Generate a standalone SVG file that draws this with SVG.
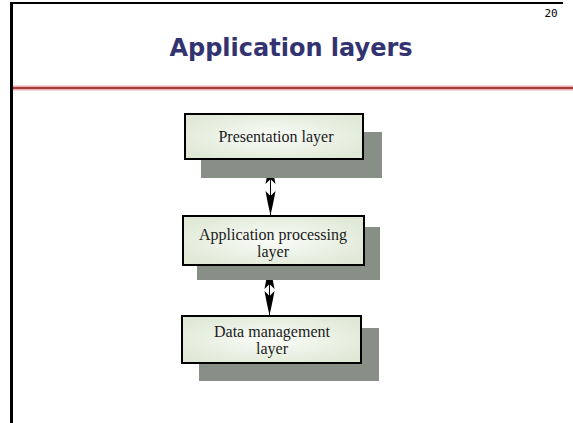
<svg xmlns="http://www.w3.org/2000/svg" width="573" height="423" viewBox="0 0 573 423">
<style>
.shadow{fill:#878f86}
.box{fill:url(#boxfill);stroke:#000;stroke-width:2}
.lbl{font-family:"Liberation Serif","Times New Roman",serif;font-size:16px;fill:#1a1a1a;text-anchor:middle}
.conn{stroke:#000;stroke-width:1;fill:none;marker-start:url(#head);marker-end:url(#head)}
</style>
<defs>
<radialGradient id="boxfill" cx="0.5" cy="0.5" r="0.6">
<stop offset="0" stop-color="#fafcf8"/>
<stop offset="1" stop-color="#dfe9d6"/>
</radialGradient>
<marker id="head" markerUnits="userSpaceOnUse" viewBox="-26 -6 28 12" refX="0" refY="0" markerWidth="28" markerHeight="12" orient="auto-start-reverse">
<path d="M0,0 Q-10,-2.5 -24,-5 L-19,0 L-24,5 Q-10,2.5 0,0 Z" fill="#000"/>
</marker>
</defs>
<rect x="0" y="0" width="573" height="423" fill="#fff"/>
<line x1="10" y1="3" x2="563" y2="3" stroke="#000" stroke-width="2"/>
<line x1="11.5" y1="2" x2="11.5" y2="423" stroke="#000" stroke-width="3"/>
<line x1="13" y1="88" x2="573" y2="88" stroke="#e2b4b4" stroke-width="5"/>
<line x1="13" y1="88" x2="573" y2="88" stroke="#a83c3c" stroke-width="2"/>
<text x="551" y="17" font-family="DejaVu Sans Mono,monospace" font-size="11" fill="#000" text-anchor="middle">20</text>
<text x="291" y="56" font-family="DejaVu Sans,sans-serif" font-weight="bold" font-size="24" fill="#33336f" text-anchor="middle">Application layers</text>
<g id="connectors">
<line class="conn" x1="270.5" y1="160" x2="270.5" y2="215"/>
<line class="conn" x1="269.5" y1="265" x2="269.5" y2="315"/>
</g>
<g id="presentation">
<rect class="shadow" x="201" y="132" width="181" height="46"/>
<rect class="box" x="185" y="114" width="178" height="45"/>
<text class="lbl" x="276" y="142">Presentation layer</text>
</g>
<g id="processing">
<rect class="shadow" x="197" y="227" width="183" height="53"/>
<rect class="box" x="183" y="216" width="181" height="49"/>
<text class="lbl" x="273" y="240">Application processing</text>
<text class="lbl" x="273" y="257">layer</text>
</g>
<g id="data">
<rect class="shadow" x="199" y="328" width="180" height="53"/>
<rect class="box" x="182" y="316" width="179" height="47"/>
<text class="lbl" x="272" y="337">Data management</text>
<text class="lbl" x="272" y="354">layer</text>
</g>
</svg>
